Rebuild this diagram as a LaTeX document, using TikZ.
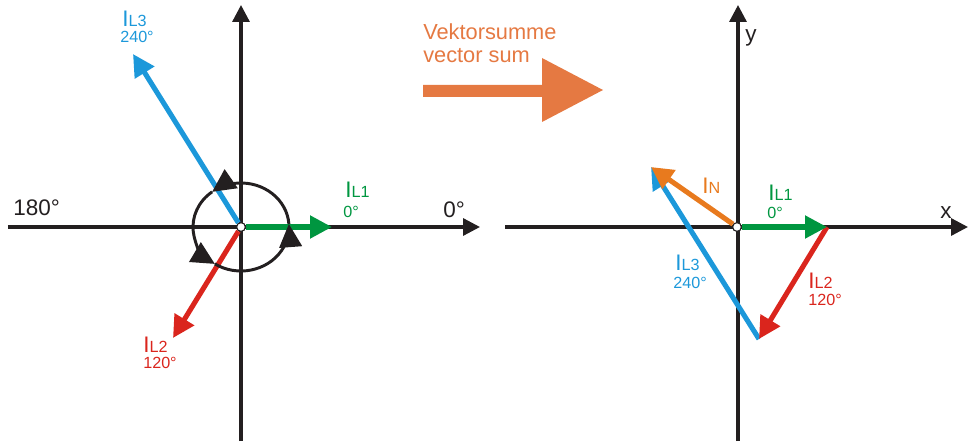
\documentclass[tikz,border=0pt]{standalone}
\usepackage{fontspec}
\setmainfont{Liberation Sans}
\usetikzlibrary{arrows.meta}
\definecolor{axisblack}{RGB}{35,31,32}
\definecolor{phaseblue}{RGB}{28,152,218}
\definecolor{phasegreen}{RGB}{0,150,64}
\definecolor{phasered}{RGB}{218,37,29}
\definecolor{neutralorange}{RGB}{232,122,30}
\definecolor{sumorange}{RGB}{229,121,66}
\tikzset{
    axis/.style={draw=axisblack, line width=2.3pt, -{Triangle[length=0.42cm, width=0.42cm]}},
    phasor/.style={line width=3.6pt, -{Triangle[length=0.55cm, width=0.55cm]}},
    rotarc/.style={draw=axisblack, line width=2.1pt, -{Triangle[length=0.58cm, width=0.56cm]}},
    origin/.style={circle, draw=axisblack, fill=white, line width=0.8pt, inner sep=0pt, minimum size=0.22cm},
    bigtxt/.style={inner sep=0pt, anchor=base west, font=\fontsize{16}{19}\selectfont},
    smalltxt/.style={inner sep=0pt, anchor=base west, font=\fontsize{11.5}{13}\selectfont}
}
\newcommand{\phasorname}[1]{I{\fontsize{11.5}{13}\selectfont #1}}

\begin{document}
\begin{tikzpicture}

        % -----------------------------------------------------------------
        % PAGE FRAME
        % -----------------------------------------------------------------
        \useasboundingbox (-6.025,-5.35) rectangle (18.175,5.675);

        % =================================================================
        % LEFT DIAGRAM: THREE PHASORS
        % =================================================================

        % Axes
        \coordinate (xa1) at (-5.825,0);
        \coordinate (xb1) at (5.975,0);
        \coordinate (ya1) at (0,-5.35);
        \coordinate (yb1) at (0,5.55);
        \draw[axis] (xa1) -- (xb1);
        \draw[axis] (ya1) -- (yb1);

        % Origin and phasor tips
        \node (o1) [origin] at (0,0) {};
        \coordinate (g1) at (2.275,0);
        \coordinate (r1) at (-1.7,-2.775);
        \coordinate (b1) at (-2.7,4.325);
        \draw[phasor, phaseblue] (o1) -- (b1);
        \draw[phasor, phasered] (o1) -- (r1);
        \draw[phasor, phasegreen] (o1) -- (g1);

        % Direction of rotation
        \draw[rotarc] ([shift={(237:1.2 and 1.1)}]o1.center) arc[start angle=237, end angle=364, x radius=1.2, y radius=1.1];
        \draw[rotarc] ([shift={(4:1.2 and 1.1)}]o1.center) arc[start angle=4, end angle=127, x radius=1.2, y radius=1.1];
        \draw[rotarc] ([shift={(127:1.2 and 1.1)}]o1.center) arc[start angle=127, end angle=237, x radius=1.2, y radius=1.1];

        % Labels
        \node (lbl_180) [bigtxt, text=axisblack] at (-5.7,0.3) {180°};
        \node (lbl_0) [bigtxt, text=axisblack] at (5.05,0.25) {0°};
        \node (n1_l3) [bigtxt, text=phaseblue] at (-2.975,5.0) {\phasorname{L3}};
        \node (d1_l3) [smalltxt, text=phaseblue] at (-3.025,4.6) {240°};
        \node (n1_l2) [bigtxt, text=phasered] at (-2.45,-3.125) {\phasorname{L2}};
        \node (d1_l2) [smalltxt, text=phasered] at (-2.45,-3.525) {120°};
        \node (n1_l1) [bigtxt, text=phasegreen] at (2.6,0.725) {\phasorname{L1}};
        \node (d1_l1) [smalltxt, text=phasegreen] at (2.55,0.25) {0°};

        % =================================================================
        % VECTOR SUM ARROW
        % =================================================================
        \fill[sumorange] (4.55,3.25) -- (7.525,3.25) -- (7.525,2.625) -- (9.05,3.425)
            -- (7.525,4.225) -- (7.525,3.55) -- (4.55,3.55) -- cycle;
        \node (sum_de) [inner sep=0pt, anchor=base west, text=sumorange, font=\fontsize{15.5}{18}\selectfont] at (4.55,4.675) {Vektorsumme};
        \node (sum_en) [inner sep=0pt, anchor=base west, text=sumorange, font=\fontsize{15.5}{18}\selectfont] at (4.55,4.12) {vector sum};

        % =================================================================
        % RIGHT DIAGRAM: HEAD TO TAIL
        % =================================================================

        % Axes
        \coordinate (xa2) at (6.6,0);
        \coordinate (xb2) at (18.175,0);
        \coordinate (ya2) at (12.425,-5.35);
        \coordinate (yb2) at (12.425,5.55);
        \draw[axis] (xa2) -- (xb2);
        \draw[axis] (ya2) -- (yb2);

        % Origin and chained phasors
        \node (o2) [origin] at (12.4,0) {};
        \coordinate (g2) at (14.65,0);
        \coordinate (r2) at (12.95,-2.8);
        \coordinate (n2) at (10.25,1.5);
        \draw[phasor, phaseblue] (r2) -- (n2);
        \draw[phasor, phasered] (g2) -- (r2);
        \draw[phasor, phasegreen] (o2) -- (g2);
        \draw[phasor, neutralorange] (o2) -- (n2);

        % Labels
        \node (lbl_y) [bigtxt, text=axisblack] at (12.6,4.625) {y};
        \node (lbl_x) [bigtxt, text=axisblack] at (17.475,0.225) {x};
        \node (n2_n) [bigtxt, text=neutralorange] at (11.525,0.85) {\phasorname{N}};
        \node (n2_l1) [bigtxt, text=phasegreen] at (13.175,0.675) {\phasorname{L1}};
        \node (d2_l1) [smalltxt, text=phasegreen] at (13.15,0.225) {0°};
        \node (n2_l3) [bigtxt, text=phaseblue] at (10.85,-1.075) {\phasorname{L3}};
        \node (d2_l3) [smalltxt, text=phaseblue] at (10.8,-1.525) {240°};
        \node (n2_l2) [bigtxt, text=phasered] at (14.175,-1.525) {\phasorname{L2}};
        \node (d2_l2) [smalltxt, text=phasered] at (14.175,-1.95) {120°};

\end{tikzpicture}
\end{document}
